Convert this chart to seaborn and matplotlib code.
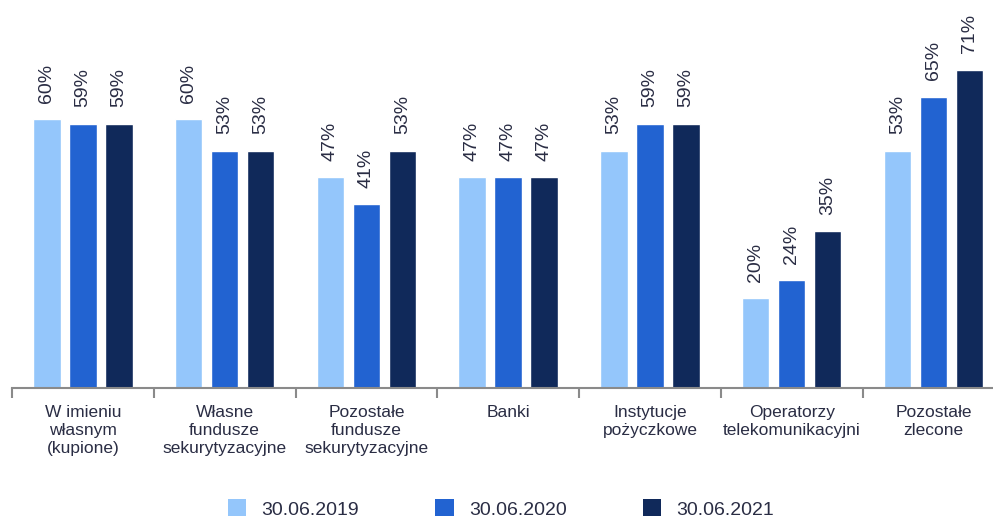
import pandas as pd
import matplotlib
matplotlib.use("Agg")
import matplotlib.pyplot as plt
import seaborn as sns
from matplotlib.patches import Patch

categories = [
    "W imieniu\nwłasnym\n(kupione)",
    "Własne\nfundusze\nsekurytyzacyjne",
    "Pozostałe\nfundusze\nsekurytyzacyjne",
    "Banki",
    "Instytucje\npożyczkowe",
    "Operatorzy\ntelekomunikacyjni",
    "Pozostałe\nzlecone",
]
series = ["30.06.2019", "30.06.2020", "30.06.2021"]
v2019 = [60, 60, 47, 47, 53, 20, 53]
v2020 = [59, 53, 41, 47, 59, 24, 65]
v2021 = [59, 53, 53, 47, 59, 35, 71]
colors = ["#94c6fb", "#2263d1", "#10295a"]
text_col = "#2a2d44"

sns.set_theme(style="white")
plt.rcParams["font.family"] = ["Liberation Sans", "DejaVu Sans"]

rows = []
for s, vals in zip(series, [v2019, v2020, v2021]):
    for c, v in zip(categories, vals):
        rows.append({"kategoria": c, "data": s, "wartosc": v})
df = pd.DataFrame(rows)

fig = plt.figure(figsize=(9.93, 5.19), dpi=100)
ax = fig.add_axes([12 / 993, 131 / 519, 1 - 12 / 993, 388 / 519])

sns.barplot(data=df, x="kategoria", y="wartosc", hue="data", palette=colors,
            width=0.762, gap=0.24, saturation=1, legend=False, ax=ax)

for cont, vals in zip(ax.containers, [v2019, v2020, v2021]):
    ax.bar_label(cont, labels=[f"{v}%" for v in vals], rotation=90,
                 padding=12, fontsize=14, color=text_col)

ax.set_xlim(-0.5, 6.42)
ax.set_ylim(0, 86.6)
ax.set_xlabel("")
ax.set_ylabel("")
ax.set_yticks([])
for side in ["top", "right", "left"]:
    ax.spines[side].set_visible(False)
ax.spines["bottom"].set_color("#8a8a8a")
ax.spines["bottom"].set_linewidth(1.5)

ax.set_xticks(range(len(categories)))
ax.set_xticklabels(categories, fontsize=12.5, color=text_col, linespacing=1.25)
ax.tick_params(axis="x", which="major", length=0, pad=12)
ax.set_xticks([i - 0.5 for i in range(len(categories))], minor=True)
ax.tick_params(axis="x", which="minor", length=7, width=1.5, color="#8a8a8a",
               direction="out", bottom=True)

handles = [Patch(facecolor=c, edgecolor="none") for c in colors]
fig.legend(handles, series, loc="center", bbox_to_anchor=(501 / 993, 10 / 519),
           ncol=3, frameon=False, fontsize=14, handlelength=0.95,
           handleheight=0.95, handletextpad=0.8, columnspacing=3.9,
           labelcolor=text_col, borderpad=0.2)

fig.savefig("out.png", dpi=100)
